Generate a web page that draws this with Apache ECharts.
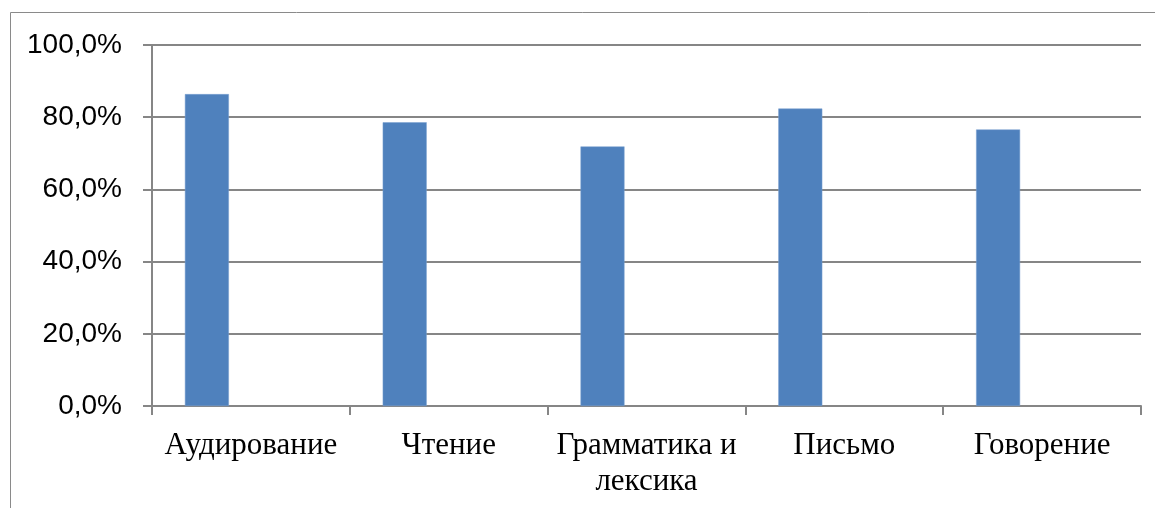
<!DOCTYPE html>
<html>
<head>
<meta charset="utf-8">
<script src="https://cdn.jsdelivr.net/npm/echarts@6/dist/echarts.min.js"></script>
<style>
html,body{margin:0;padding:0;background:#fff;}
#chart{width:1155px;height:508px;}
</style>
</head>
<body>
<div id="chart"></div>
<script>
var categories = ['Аудирование', 'Чтение', 'Грамматика и\nлексика', 'Письмо', 'Говорение'];
var values = [86.4, 78.6, 71.9, 82.4, 76.6];
var emptySeries = [null, null, null, null, null];
var yTicks = { min: 0, max: 100, interval: 20 };

var chart = echarts.init(document.getElementById('chart'), null, { renderer: 'canvas' });
var axisColor = '#868686';
chart.setOption({
  animation: false,
  backgroundColor: '#ffffff',
  grid: { left: 152, right: 14, top: 45, bottom: 102, containLabel: false, outerBoundsMode: 'none' },
  graphic: [
    { type: 'polyline', shape: { points: [[10.5, 508], [10.5, 12.5], [1155, 12.5]] },
      style: { stroke: '#8a8a8a', lineWidth: 1, fill: null }, silent: true }
  ],
  xAxis: {
    type: 'category',
    data: categories,
    axisLine: { show: true, lineStyle: { color: axisColor, width: 2 } },
    axisTick: { show: true, length: 9, alignWithLabel: false, lineStyle: { color: axisColor, width: 2 } },
    axisLabel: {
      interval: 0,
      hideOverlap: false,
      color: '#000000',
      fontFamily: 'Liberation Serif',
      fontSize: 31,
      lineHeight: 36,
      margin: 22
    },
    splitLine: { show: false }
  },
  yAxis: {
    type: 'value',
    min: yTicks.min,
    max: yTicks.max,
    interval: yTicks.interval,
    axisLine: { show: true, lineStyle: { color: axisColor, width: 2 } },
    axisTick: { show: true, length: 9, lineStyle: { color: axisColor, width: 2 } },
    axisLabel: {
      color: '#000000',
      fontFamily: 'Liberation Sans',
      fontSize: 28,
      margin: 30,
      formatter: function (v) { return v.toFixed(1).replace('.', ',') + '%'; }
    },
    splitLine: { show: true, lineStyle: { color: axisColor, width: 2 } }
  },
  series: [
    { type: 'bar', data: values, barWidth: 44, barGap: '100%',
      itemStyle: { color: '#4F81BD', borderColor: '#7aa0d0', borderWidth: 0.5 } },
    { type: 'bar', data: emptySeries, barWidth: 44, barGap: '100%',
      itemStyle: { color: '#C0504D' } }
  ]
});
</script>
</body>
</html>
